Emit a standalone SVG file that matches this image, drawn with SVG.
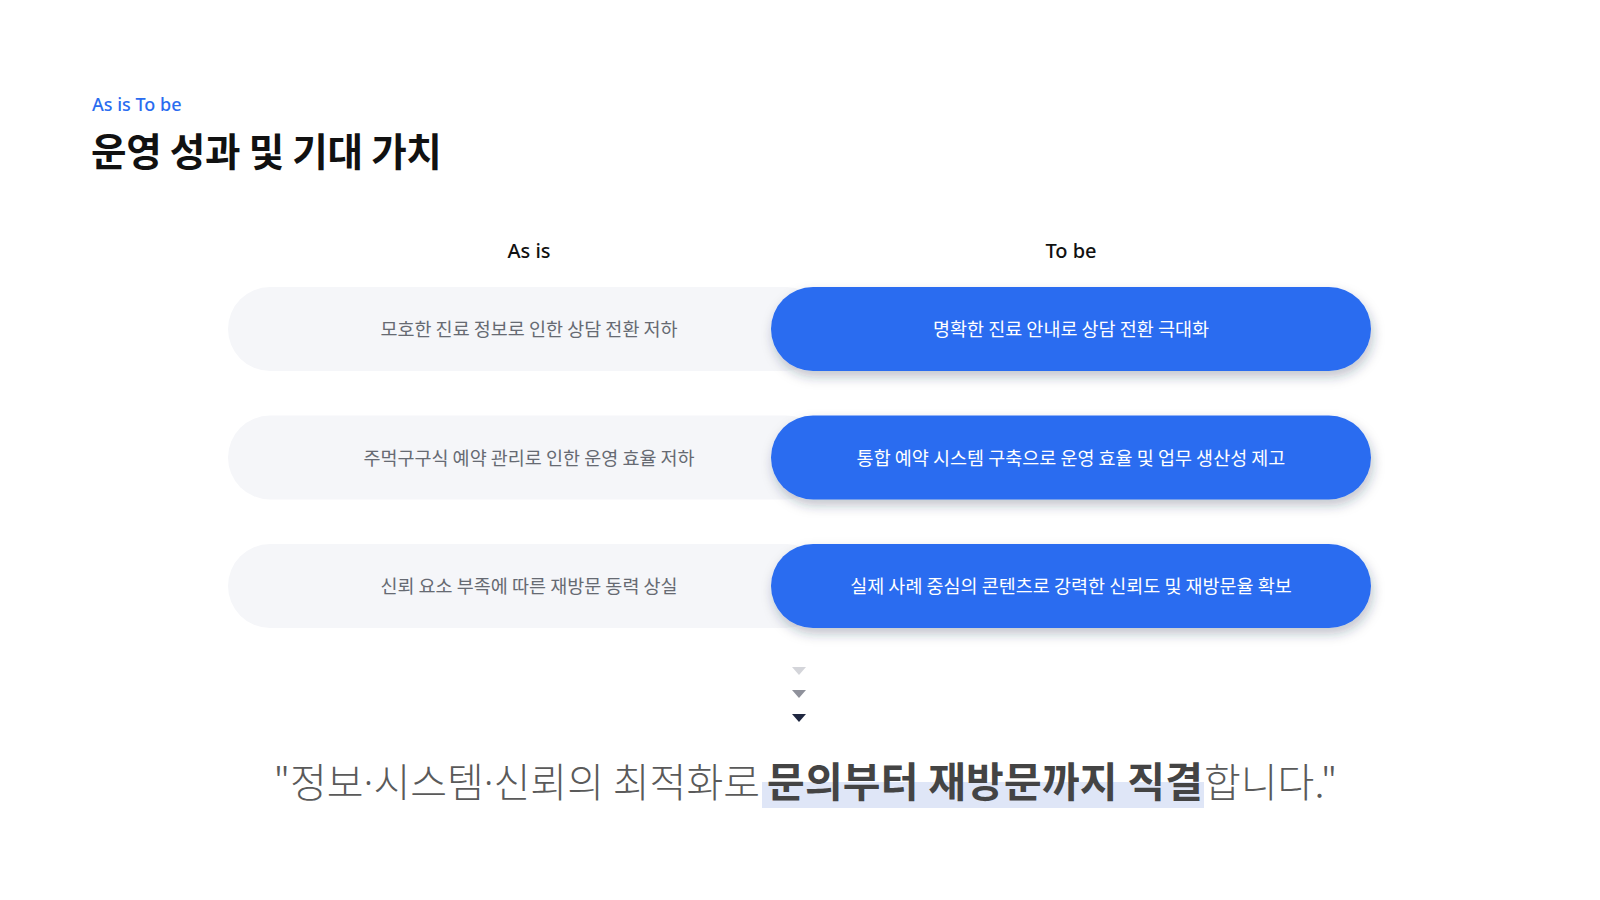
<svg xmlns="http://www.w3.org/2000/svg" width="1600" height="900" viewBox="0 0 1600 900">
  <defs>
    <filter id="shadow" x="-10%" y="-30%" width="120%" height="180%">
      <feDropShadow dx="2" dy="6" stdDeviation="6" flood-color="#1b2a4a" flood-opacity="0.28"/>
    </filter>
    <style>
      .kr { font-family: "Noto Sans CJK KR", "Noto Sans", sans-serif; }
      .eyebrow { font-family: "Noto Sans", "Noto Sans CJK KR", sans-serif; font-size: 18px; font-weight: 500; fill: #2a6cf0; }
      .title { font-size: 38.6px; font-weight: 700; fill: #111111; letter-spacing: -0.3px; }
      .colhead { font-family: "Noto Sans", "Noto Sans CJK KR", sans-serif; font-size: 20px; font-weight: 500; fill: #111111; text-anchor: middle; }
      .asis { fill: #f5f6f9; }
      .tobe { fill: #2a6cf0; filter: url(#shadow); }
      .asis-t { font-size: 18.5px; fill: #666a72; text-anchor: middle; }
      .tobe-t { font-size: 18.5px; fill: #ffffff; text-anchor: middle; font-weight: 400; }
      .q-light { font-size: 40px; font-weight: 300; fill: #5a5a5a; }
      .q-bold { font-size: 41px; font-weight: 700; fill: #444444; letter-spacing: 0.2px; }
      .dot { font-family: "Noto Sans", sans-serif; }
    </style>
  </defs>
  <rect width="1600" height="900" fill="#ffffff"/>

  <g id="header">
    <text class="eyebrow" x="92" y="111">As is To be</text>
    <text class="kr title" x="91" y="166">운영 성과 및 기대 가치</text>
  </g>

  <g id="column-heads">
    <text class="colhead" x="529" y="258">As is</text>
    <text class="colhead" x="1071" y="258">To be</text>
  </g>

  <g id="row1">
    <g id="asis-1">
      <rect class="asis" x="228" y="287" width="600" height="84" rx="42"/>
      <text class="kr asis-t" x="529" y="336">모호한 진료 정보로 인한 상담 전환 저하</text>
    </g>
    <g id="tobe-1">
      <rect class="tobe" x="771" y="287" width="600" height="84" rx="42"/>
      <text class="kr tobe-t" x="1071" y="336">명확한 진료 안내로 상담 전환 극대화</text>
    </g>
  </g>

  <g id="row2">
    <g id="asis-2">
      <rect class="asis" x="228" y="415.5" width="600" height="84" rx="42"/>
      <text class="kr asis-t" x="529" y="464.5">주먹구구식 예약 관리로 인한 운영 효율 저하</text>
    </g>
    <g id="tobe-2">
      <rect class="tobe" x="771" y="415.5" width="600" height="84" rx="42"/>
      <text class="kr tobe-t" x="1071" y="464.5">통합 예약 시스템 구축으로 운영 효율 및 업무 생산성 제고</text>
    </g>
  </g>

  <g id="row3">
    <g id="asis-3">
      <rect class="asis" x="228" y="544" width="600" height="84" rx="42"/>
      <text class="kr asis-t" x="529" y="593">신뢰 요소 부족에 따른 재방문 동력 상실</text>
    </g>
    <g id="tobe-3">
      <rect class="tobe" x="771" y="544" width="600" height="84" rx="42"/>
      <text class="kr tobe-t" x="1071" y="593">실제 사례 중심의 콘텐츠로 강력한 신뢰도 및 재방문율 확보</text>
    </g>
  </g>

  <g id="connectors">
    <polygon points="792,667 806,667 799,675" fill="#d4d5da"/>
    <polygon points="792,690 806,690 799,698" fill="#8f919b"/>
    <polygon points="792,714 806,714 799,722" fill="#1f2740"/>
  </g>

  <g id="conclusion">
    <rect x="762" y="782" width="442" height="26" fill="#dfe6f7"/>
    <text class="kr q-light" x="760" y="797" text-anchor="end">"정보<tspan class="dot">·</tspan>시스템<tspan class="dot">·</tspan>신뢰의 최적화로</text>
    <text class="kr q-bold" x="767" y="797" text-anchor="start">문의부터 재방문까지 직결</text>
    <text class="kr q-light" x="1204" y="797" text-anchor="start">합니다."</text>
  </g>
</svg>
